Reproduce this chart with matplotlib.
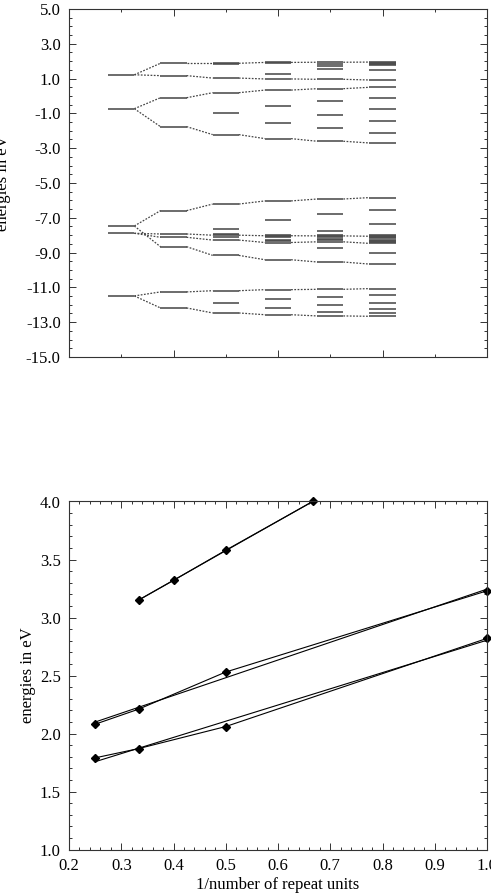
import matplotlib
matplotlib.use('Agg')
import matplotlib.pyplot as plt
import numpy as np
from matplotlib.ticker import MultipleLocator, FormatStrFormatter

# --- top panel: energy levels per oligomer (columns 1..6) ---
col_x = [1, 2, 3, 4, 5, 6]
levels_1 = [1.22, -0.73, -7.47, -7.89, -11.49]
levels_2 = [1.88, 1.17, -0.10, -1.76, -6.59, -7.93, -8.12, -8.66, -11.26, -12.18]
levels_3 = [1.88, 1.82, 1.03, 0.19, -1.00, -2.22, -6.21, -7.66, -7.92, -8.00,
            -8.10, -8.28, -9.16, -11.19, -11.88, -12.47]
levels_4 = [1.93, 1.88, 1.28, 0.98, 0.34, -0.57, -1.53, -2.45, -6.03, -7.13,
            -7.97, -8.03, -8.09, -8.29, -8.36, -8.42, -9.41, -11.13, -11.68,
            -12.20, -12.57]
levels_5 = [1.94, 1.86, 1.74, 1.53, 0.96, 0.42, -0.29, -1.07, -1.86, -2.60,
            -5.92, -6.76, -7.76, -7.98, -8.04, -8.10, -8.22, -8.30, -8.38,
            -8.75, -9.54, -11.11, -11.55, -12.03, -12.41, -12.64]
levels_6 = [1.95, 1.89, 1.83, 1.78, 1.48, 0.92, 0.50, -0.13, -0.75, -1.42,
            -2.11, -2.70, -5.84, -6.53, -7.36, -8.00, -8.06, -8.12, -8.18,
            -8.25, -8.32, -8.39, -8.47, -9.00, -9.66, -11.07, -11.45, -11.88,
            -12.22, -12.49, -12.66]
all_levels = [levels_1, levels_2, levels_3, levels_4, levels_5, levels_6]

# band edges followed by the dotted lines (one value per column)
edge_1 = [1.22, 1.88, 1.88, 1.93, 1.94, 1.95]
edge_2 = [1.22, 1.17, 1.03, 0.98, 0.96, 0.92]
edge_3 = [-0.73, -0.10, 0.19, 0.34, 0.42, 0.50]
edge_4 = [-0.73, -1.76, -2.22, -2.45, -2.60, -2.70]
edge_5 = [-7.47, -6.59, -6.21, -6.03, -5.92, -5.84]
edge_6 = [-7.47, -8.66, -9.16, -9.41, -9.54, -9.66]
edge_7 = [-7.89, -7.93, -8.00, -8.03, -8.04, -8.06]
edge_8 = [-7.89, -8.12, -8.28, -8.42, -8.38, -8.47]
edge_9 = [-11.49, -11.26, -11.19, -11.13, -11.11, -11.07]
edge_10 = [-11.49, -12.18, -12.47, -12.57, -12.64, -12.66]
edges = [edge_1, edge_2, edge_3, edge_4, edge_5, edge_6, edge_7, edge_8,
         edge_9, edge_10]

# --- bottom panel: energies vs 1/n ---
x_a = [1 / 3, 0.4, 0.5, 2 / 3]
y_a = [3.15, 3.32, 3.58, 4.00]
x_b = [0.25, 1 / 3, 0.5, 1.0]
y_b = [2.08, 2.21, 2.53, 3.23]
x_c = [0.25, 1 / 3, 0.5, 1.0]
y_c = [1.79, 1.87, 2.06, 2.82]

plt.rcParams.update({
    'font.family': ['Liberation Serif', 'DejaVu Serif'],
    'font.size': 12,
    'axes.unicode_minus': False,
    'axes.linewidth': 0.8,
    'axes.edgecolor': '#333333',
})

fig = plt.figure(figsize=(4.91, 8.96), dpi=100)
W, H = 491, 896
ax1 = fig.add_axes([69 / W, 1 - 357 / H, 418 / W, 348 / H])
ax2 = fig.add_axes([69 / W, 1 - 849.5 / H, 418 / W, 348 / H])

half = 0.25
lcol = '#444444'
for cx, lv in zip(col_x, all_levels):
    ax1.hlines(lv, cx - half, cx + half, color=lcol, linewidth=1.1)
for e in edges:
    for i in range(len(col_x) - 1):
        ax1.plot([col_x[i] + half, col_x[i + 1] - half], [e[i], e[i + 1]],
                 color=lcol, linewidth=0.9, linestyle=(0, (1.4, 1.2)))

ax1.set_xlim(0, 8)
ax1.set_ylim(-15, 5)
ax1.xaxis.set_major_locator(MultipleLocator(2))
ax1.xaxis.set_minor_locator(MultipleLocator(1))
ax1.yaxis.set_minor_locator(MultipleLocator(0.5))
ax1.yaxis.set_major_formatter(FormatStrFormatter('%.1f'))
ax1.set_yticks(np.arange(-15, 5.1, 2))
ax1.tick_params(axis='x', labelbottom=False)
ax1.set_ylabel('energies in eV', fontsize=12)
ax1.yaxis.set_label_coords(-0.138, 0.5)

# linear fits drawn together with the connected points
for xs, ys in [(x_a, y_a), (x_b, y_b), (x_c, y_c)]:
    k, b = np.polyfit(xs, ys, 1)
    xf = np.array([min(xs), max(xs)])
    ax2.plot(xf, k * xf + b, color='black', linewidth=0.8)
    ax2.plot(xs, ys, color='black', linewidth=0.8, marker='D',
             markersize=4, clip_on=False)

ax2.set_xlim(0.2, 1.0)
ax2.set_ylim(1.0, 4.0)
ax2.xaxis.set_major_locator(MultipleLocator(0.1))
ax2.xaxis.set_minor_locator(MultipleLocator(0.02))
ax2.yaxis.set_major_locator(MultipleLocator(0.5))
ax2.yaxis.set_minor_locator(MultipleLocator(0.1))
ax2.xaxis.set_major_formatter(FormatStrFormatter('%.1f'))
ax2.yaxis.set_major_formatter(FormatStrFormatter('%.1f'))
ax2.set_xlabel('1/number of repeat units', fontsize=12, labelpad=2)
ax2.set_ylabel('energies in eV', fontsize=12)
ax2.yaxis.set_label_coords(-0.08, 0.5)

for ax in (ax1, ax2):
    ax.tick_params(which='both', direction='in', top=True, right=True,
                   color='#333333', width=0.7)
    ax.tick_params(which='major', length=5, pad=6, labelsize=12)
    ax.tick_params(which='minor', length=2.5)

fig.savefig('out.png', dpi=100)
